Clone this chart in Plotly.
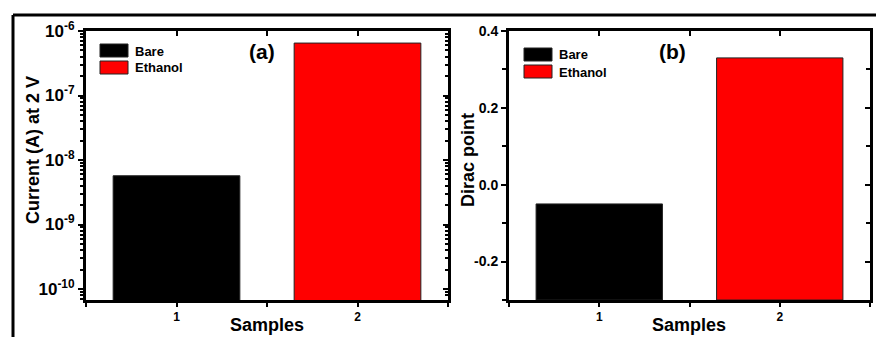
import plotly.graph_objects as go

# ---- data -------------------------------------------------------------
samples = [1, 2]
series_names = ["Bare", "Ethanol"]
series_colors = ["#000000", "#ff0000"]
current_at_2v = [5.7e-9, 6.5e-7]       # A, panel (a)
dirac_point = [-0.05, 0.33]            # panel (b)

sample_tick_text = ["1", "2"]
current_ticks = [1e-10, 1e-9, 1e-8, 1e-7, 1e-6]
current_tick_text = ["10<sup>-10</sup>", "10<sup>-9</sup>", "10<sup>-8</sup>",
                     "10<sup>-7</sup>", "10<sup>-6</sup>"]
current_minor = [k * 10.0 ** e for e in range(-11, -6) for k in range(2, 10)]
dirac_ticks = [-0.2, 0.0, 0.2, 0.4]
dirac_tick_text = ["-0.2", "0.0", "0.2", "0.4"]
dirac_minor = [-0.3, -0.1, 0.1, 0.3]

# ---- layout helpers ----------------------------------------------------
W, H = 876, 337
FONT = "Arial, 'Liberation Sans', sans-serif"


def px(x):
    return x / W


def py(y):
    return 1 - y / H


dom_a = [px(86), px(448)]
dom_b = [px(509), px(870)]
dom_y = [py(300), py(31)]
x_range = [0.5, 2.5]
log_range = [-10.17, -6]
dirac_range = [-0.3, 0.4]
BAR_W = 0.7

fig = go.Figure()

for name, color, cur, dp, s in zip(series_names, series_colors,
                                   current_at_2v, dirac_point, samples):
    fig.add_trace(go.Bar(
        x=[s], y=[cur], width=BAR_W, name=name, showlegend=False,
        marker=dict(color=color, line=dict(color="#222222", width=1)),
        xaxis="x", yaxis="y"))
    # bars rise from the bottom of the axis, as in the original plot
    fig.add_trace(go.Bar(
        x=[s], y=[dp - dirac_range[0]], base=[dirac_range[0]], width=BAR_W,
        name=name, showlegend=False,
        marker=dict(color=color, line=dict(color="#222222", width=1)),
        xaxis="x2", yaxis="y2"))

# empty traces so the mirrored (inward-tick) axes get drawn
for xa, ya in (("x3", "y3"), ("x4", "y4")):
    fig.add_trace(go.Scatter(x=[], y=[], xaxis=xa, yaxis=ya,
                             showlegend=False, hoverinfo="skip"))

log_font = dict(family=FONT, size=17, color="black", weight="bold")
lin_font = dict(family=FONT, size=14, color="black", weight="bold")
x_font = dict(family=FONT, size=12, color="black", weight="bold")

base_axis = dict(showline=True, linecolor="black", linewidth=3, mirror=True,
                 ticks="outside", tickcolor="black", tickwidth=2, ticklen=5,
                 showgrid=False, zeroline=False, automargin=False)
minor_x = dict(tickvals=[0.5, 1.5, 2.5], ticks="outside", ticklen=4,
               tickwidth=2, tickcolor="black")

inner_x = dict(side="top", range=x_range, tickvals=samples, ticks="inside",
               ticklen=5, tickwidth=2, tickcolor="black", showticklabels=False,
               showline=False, showgrid=False, zeroline=False, automargin=False,
               minor=dict(tickvals=[0.5, 1.5, 2.5], ticks="inside", ticklen=5,
                          tickwidth=2, tickcolor="black"))
inner_y = dict(side="right", ticks="inside", ticklen=5, tickwidth=2,
               tickcolor="black", showticklabels=False, showline=False,
               showgrid=False, zeroline=False, automargin=False)

fig.update_layout(
    width=W, height=H,
    margin=dict(l=0, r=0, t=0, b=0, autoexpand=False),
    paper_bgcolor="white", plot_bgcolor="white",
    barmode="overlay", showlegend=False,
    xaxis=dict(base_axis, domain=dom_a, anchor="y", range=x_range,
               tickvals=samples, ticktext=sample_tick_text, tickfont=x_font,
               ticklen=4, minor=minor_x),
    yaxis=dict(base_axis, domain=dom_y, anchor="x", type="log",
               range=log_range, tickvals=current_ticks,
               ticktext=current_tick_text, tickfont=log_font,
               minor=dict(tickvals=current_minor, ticks="outside", ticklen=3,
                          tickwidth=1.5, tickcolor="black")),
    xaxis2=dict(base_axis, domain=dom_b, anchor="y2", range=x_range,
                tickvals=samples, ticktext=sample_tick_text, tickfont=x_font,
                ticklen=4, minor=minor_x),
    yaxis2=dict(base_axis, domain=dom_y, anchor="x2", range=dirac_range,
                tickvals=dirac_ticks, ticktext=dirac_tick_text,
                tickfont=lin_font,
                minor=dict(tickvals=dirac_minor, ticks="outside", ticklen=4,
                           tickwidth=2, tickcolor="black")),
    xaxis3=dict(inner_x, overlaying="x", anchor="y3"),
    yaxis3=dict(inner_y, overlaying="y", anchor="x3", type="log",
                range=log_range, tickvals=current_ticks,
                minor=dict(tickvals=current_minor, ticks="inside", ticklen=3,
                           tickwidth=1.5, tickcolor="black")),
    xaxis4=dict(inner_x, overlaying="x2", anchor="y4"),
    yaxis4=dict(inner_y, overlaying="y2", anchor="x4",
                range=dirac_range, tickvals=dirac_ticks,
                minor=dict(tickvals=dirac_minor, ticks="inside", ticklen=4,
                           tickwidth=2, tickcolor="black")),
)

shapes = [
    # outer figure frame (top and left edges)
    dict(type="line", xref="paper", yref="paper", x0=px(13), x1=1.01,
         y0=py(15), y1=py(15), line=dict(color="black", width=3)),
    dict(type="line", xref="paper", yref="paper", x0=px(13), x1=px(13),
         y0=py(15), y1=-0.01, line=dict(color="black", width=3)),
]
annotations = []


def text(s, x, y, size, xanchor="center", **kw):
    annotations.append(dict(text=s, x=px(x), y=py(y), xref="paper",
                            yref="paper", showarrow=False,
                            xanchor=xanchor, yanchor="middle",
                            font=dict(family=FONT, size=size, color="black",
                                      weight="bold"), **kw))


# legend boxes for each panel
for (lx, ly) in ((100, 44), (524, 48)):
    for i, (name, color) in enumerate(zip(series_names, series_colors)):
        y0 = ly + i * 17
        shapes.append(dict(type="rect", xref="paper", yref="paper",
                           x0=px(lx), x1=px(lx + 28), y0=py(y0 + 13), y1=py(y0),
                           fillcolor=color, line=dict(color="#222222", width=1)))
        text(name, lx + 33, y0 + 7, 13, xanchor="left")

text("(a)", 262, 51, 21)
text("(b)", 672, 51, 21)
text("Current (A) at 2 V", 33, 150, 18, textangle=-90)
text("Dirac point", 468, 160, 18, textangle=-90)
text("Samples", 267, 325, 18)
text("Samples", 689, 325, 18)

fig.update_layout(shapes=shapes, annotations=annotations)
fig.write_html("out.html")
